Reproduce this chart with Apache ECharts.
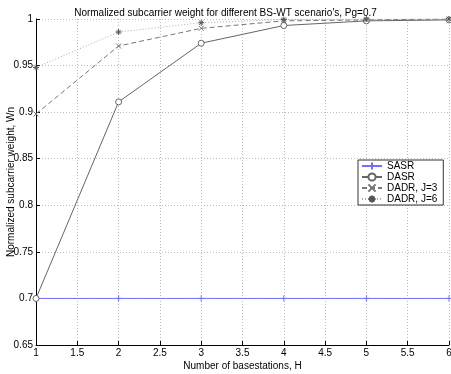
<!DOCTYPE html>
<html>
<head>
<meta charset="utf-8">
<script src="https://cdn.jsdelivr.net/npm/echarts@6/dist/echarts.min.js"></script>
<style>
  html, body { margin: 0; padding: 0; background: #fff; }
  #chart { width: 451px; height: 374px; }
</style>
</head>
<body>
<div id="chart"></div>
<script>
  var basestations = [1, 2, 3, 4, 5, 6]
  var sasr = [0.7, 0.7, 0.7, 0.7, 0.7, 0.7]
  var dasr = [0.7, 0.911, 0.974, 0.993, 0.998, 0.999]
  var dadrJ3 = [0.898, 0.971, 0.990, 0.998, 0.999, 1.0]
  var dadrJ6 = [0.948, 0.986, 0.996, 0.9995, 1.0, 1.0]

  function pairs(ys) {
    return ys.map(function (y, i) { return [basestations[i], y] })
  }

  var plusIcon = 'path://M0,5L10,5M5,0L5,10'
  var crossIcon = 'path://M0,0L10,10M10,0L0,10'
  var starIcon = 'path://M0,5L10,5M5,0L5,10M1.5,1.5L8.5,8.5M8.5,1.5L1.5,8.5'

  var fontName = 'Liberation Sans'
  var mychar = echarts.init(document.getElementById('chart'))
  var option = {
    animation: false,
    title: {
      text: "Normalized subcarrier weight for different BS-WT scenario's, Pg=0.7",
      left: 'center',
      top: 3,
      textStyle: { fontFamily: fontName, fontSize: 10, fontWeight: 'normal', color: '#000' }
    },
    legend: {
      left: 358,
      top: 160,
      orient: 'vertical',
      backgroundColor: '#fff',
      borderColor: '#333',
      borderWidth: 1,
      borderRadius: 0,
      padding: [1, 6, 1, 3],
      itemGap: 1,
      itemWidth: 20,
      itemHeight: 9,
      textStyle: { fontFamily: fontName, fontSize: 10, color: '#000' },
      data: ['SASR', 'DASR', 'DADR, J=3', 'DADR, J=6']
    },
    grid: { left: 36, right: 2, top: 19, bottom: 29, outerBoundsMode: 'none' },
    xAxis: {
      type: 'value',
      min: 1,
      max: 6,
      interval: 0.5,
      name: 'Number of basestations, H',
      nameLocation: 'middle',
      nameGap: 16,
      nameMoveOverlap: false,
      nameTextStyle: { fontFamily: fontName, fontSize: 10, color: '#000' },
      axisLine: { show: true, lineStyle: { color: '#000', width: 1 } },
      axisTick: { show: true, inside: true, length: 4, lineStyle: { color: '#000' } },
      axisLabel: { fontFamily: fontName, fontSize: 10, color: '#000', margin: 3 },
      splitLine: { show: true, lineStyle: { color: '#bbb', type: [1, 2], width: 1 } }
    },
    yAxis: {
      type: 'value',
      min: 0.65,
      max: 1,
      interval: 0.05,
      name: 'Normalized subcarrier weight, Wn',
      nameLocation: 'middle',
      nameGap: 20,
      nameRotate: 90,
      nameMoveOverlap: false,
      nameTextStyle: { fontFamily: fontName, fontSize: 10, color: '#000' },
      axisLine: { show: true, lineStyle: { color: '#000', width: 1 } },
      axisTick: { show: true, inside: true, length: 4, lineStyle: { color: '#000' } },
      axisLabel: { fontFamily: fontName, fontSize: 10, color: '#000', margin: 3 },
      splitLine: { show: true, lineStyle: { color: '#bbb', type: [1, 2], width: 1 } }
    },
    series: [
      {
        name: 'SASR',
        type: 'line',
        data: pairs(sasr),
        symbol: plusIcon,
        symbolSize: 6,
        lineStyle: { color: '#7070ff', width: 1 },
        itemStyle: { color: '#7070ff', borderColor: '#7070ff', borderWidth: 1 },
        z: 2
      },
      {
        name: 'DASR',
        type: 'line',
        data: pairs(dasr),
        symbol: 'circle',
        symbolSize: 6,
        lineStyle: { color: '#666', width: 1 },
        itemStyle: { color: '#fff', borderColor: '#666', borderWidth: 1 },
        z: 3
      },
      {
        name: 'DADR, J=3',
        type: 'line',
        data: pairs(dadrJ3),
        symbol: crossIcon,
        symbolSize: 5,
        lineStyle: { color: '#777', width: 1, type: [5, 3] },
        itemStyle: { color: '#777', borderColor: '#777', borderWidth: 1 },
        z: 4
      },
      {
        name: 'DADR, J=6',
        type: 'line',
        data: pairs(dadrJ6),
        symbol: starIcon,
        symbolSize: 6,
        lineStyle: { color: '#aaa', width: 1, type: [1, 2] },
        itemStyle: { color: '#555', borderColor: '#555', borderWidth: 1 },
        z: 5
      }
    ]
  }
  mychar.setOption(option)
</script>
</body>
</html>
